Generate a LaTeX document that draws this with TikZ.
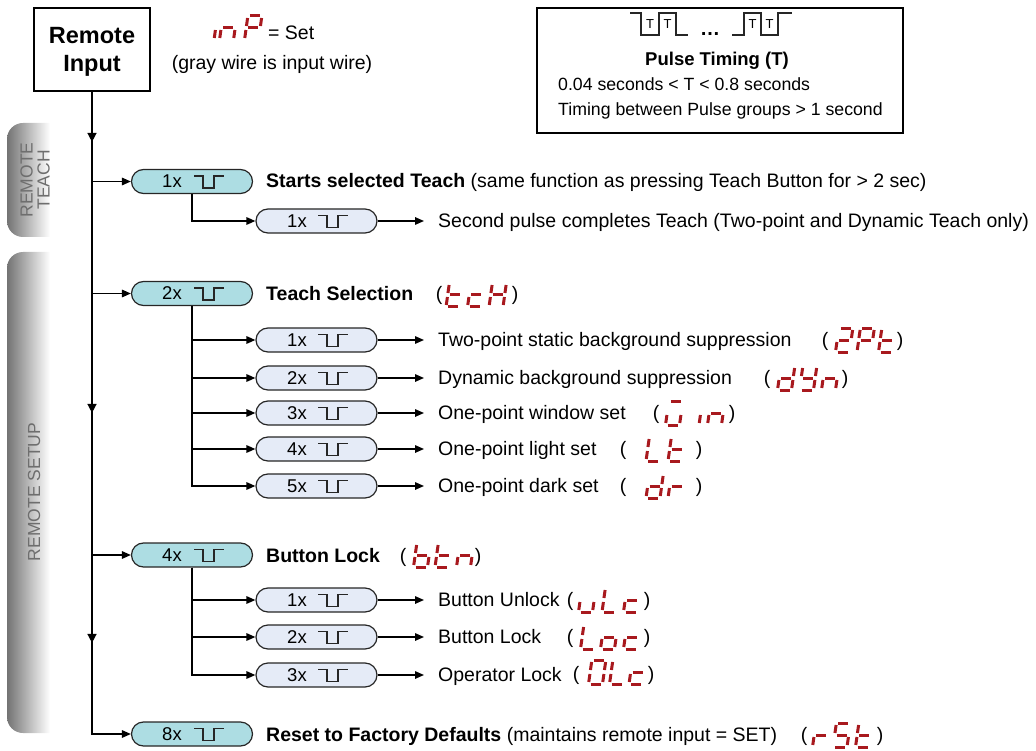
\documentclass[tikz,border=0pt]{standalone}
\usepackage{fontspec}
\setmainfont{Liberation Sans}
\usetikzlibrary{arrows.meta,shapes.misc,decorations.markings}
\definecolor{segred}{HTML}{A8191E}
\definecolor{pillmain}{HTML}{ADDDE3}
\definecolor{pillsub}{HTML}{E5EBF7}
\definecolor{tabtext}{HTML}{6E6E6E}
\tikzset{
  segline/.style={draw=segred, line width=3pt, line cap=butt},
  conn/.style={line width=1.5pt, -{Triangle[length=9pt,width=7.5pt]}},
  pillbase/.style={rounded rectangle, draw=black!85, line width=1.2pt, minimum width=121pt, minimum height=24pt, inner sep=0pt},
  mainpill/.style={pillbase, fill=pillmain},
  subpill/.style={pillbase, fill=pillsub},
  pilltxt/.style={anchor=base, inner sep=0pt, font=\fontsize{18.5}{22}\selectfont},
  pulseline/.style={line width=1.2pt, draw=black!85},
  txt/.style={anchor=base west, inner sep=0pt, font=\fontsize{19.5}{23}\selectfont},
  par/.style={anchor=base, inner sep=0pt, font=\fontsize{19.5}{23}\selectfont},
  boxtxt/.style={anchor=base west, inner sep=0pt, font=\fontsize{17.7}{21}\selectfont},
  wavet/.style={inner sep=0pt, font=\fontsize{13}{14}\selectfont},
  tabtxt/.style={rotate=90, align=center, text=tabtext, inner sep=0pt, font=\fontsize{17.5}{17}\selectfont},
  tabshade/.style={left color=black!55, right color=white},
}
\newcommand\sgsa{\draw[segline] (2,-24) -- (12,-24);}
\newcommand\sgsb{\draw[segline] (14,-22) -- (14,-14);}
\newcommand\sgsc{\draw[segline] (14,-10) -- (14,-2);}
\newcommand\sgsd{\draw[segline] (2,0) -- (12,0);}
\newcommand\sgse{\draw[segline] (0,-10) -- (0,-2);}
\newcommand\sgsf{\draw[segline] (0,-22) -- (0,-14);}
\newcommand\sgsg{\draw[segline] (2,-12) -- (12,-12);}
% digit: x of bottom-left, y centre, segment list
\newcommand\segdigit[3]{\begin{scope}[shift={(#1,#2+12)},xslant=0.14]\foreach \s in {#3}{\csname sgs\s\endcsname}\end{scope}}
% pill: name, x, y, label, style, text dx, pulse dx
\newcommand\pill[7]{%
  \node[#5] (#1) at (#2,#3) {};
  \node[pilltxt] (#1l) at ([xshift=#6pt,yshift=-6.5pt]#1.center) {#4};
  \draw[pulseline] ([xshift=#7pt,yshift=5.5pt]#1.center) -- ++(9,0) -- ++(0,12) -- ++(11,0) -- ++(0,-12) -- ++(10,0);
}
\begin{document}
\begin{tikzpicture}[x=1pt,y=-1pt]
\useasboundingbox (0,0) rectangle (1036,751);

% side tabs
\shade[tabshade] (50,123) [rounded corners=16pt] -- (7,123) -- (7,237) [sharp corners] -- (50,237) -- cycle;
\shade[tabshade] (50,252) [rounded corners=16pt] -- (7,252) -- (7,733) [sharp corners] -- (50,733) -- cycle;
\node[tabtxt] (tabA) at (35,180) {REMOTE\\TEACH};
\node[tabtxt] (tabB) at (34,492) {REMOTE SETUP};

% remote input
\node[draw, line width=1.8pt, minimum width=116pt, minimum height=83pt, inner sep=0pt] (ri) at (92,49.5) {};
\node[align=center, inner sep=0pt, font=\bfseries\fontsize{23.5}{28}\selectfont] (rit) at (92,51.5) {Remote\\Input};

% inP = Set
\segdigit{214}{28}{e}
\segdigit{219.5}{28}{c,e,g}
\segdigit{244.5}{28}{a,b,e,f,g}
\node[par, anchor=base west] (setl) at (268,40) {= Set};
\node[par] (gray) at (272,70) {(gray wire is input wire)};

% pulse timing box
\node[draw, line width=1.5pt, minimum width=366pt, minimum height=125pt, inner sep=0pt] (pb) at (720,70.5) {};
\draw[pulseline] (630,13) -- (641,13) -- (641,35) -- (659,35) -- (659,13) -- (676,13) -- (676,35) -- (688,35);
\draw[pulseline] (732,35) -- (744,35) -- (744,13) -- (761,13) -- (761,35) -- (778,35) -- (778,13) -- (792,13);
\node[wavet] (t1) at (650,24) {T};
\node[wavet] (t2) at (667.5,24) {T};
\node[wavet] (t3) at (752.5,24) {T};
\node[wavet] (t4) at (769.5,24) {T};
\node[anchor=base, inner sep=0pt, font=\bfseries\fontsize{20}{21}\selectfont] (dots) at (710,36) {…};
\node[anchor=base, inner sep=0pt, font=\bfseries\fontsize{18.5}{21}\selectfont] (ptt) at (717,66) {Pulse Timing (T)};
\node[boxtxt] (pt1) at (558,91) {0.04 seconds < T < 0.8 seconds};
\node[boxtxt] (pt2) at (558,116) {Timing between Pulse groups > 1 second};

% main pills
\pill{p1}{192}{181.5}{1x}{mainpill}{-20}{2}
\pill{p2}{192}{293.5}{2x}{mainpill}{-20}{2}
\pill{p4}{192}{555}{4x}{mainpill}{-20}{2}
\pill{p8}{192}{734}{8x}{mainpill}{-20}{2}

% sub pills
\pill{s1}{316.5}{221}{1x}{subpill}{-19.5}{1.5}
\pill{sa}{316.5}{340}{1x}{subpill}{-19.5}{1.5}
\pill{sb}{316.5}{378}{2x}{subpill}{-19.5}{1.5}
\pill{sc}{316.5}{413}{3x}{subpill}{-19.5}{1.5}
\pill{sd}{316.5}{449}{4x}{subpill}{-19.5}{1.5}
\pill{se}{316.5}{486}{5x}{subpill}{-19.5}{1.5}
\pill{la}{316.5}{600}{1x}{subpill}{-19.5}{1.5}
\pill{lb}{316.5}{637}{2x}{subpill}{-19.5}{1.5}
\pill{lc}{316.5}{675}{3x}{subpill}{-19.5}{1.5}

% main vertical line with mid arrows
\draw[conn, postaction={decorate}, decoration={markings,
   mark=at position 50pt with {\arrow{Triangle[length=9pt,width=9pt]}},
   mark=at position 321pt with {\arrow{Triangle[length=9pt,width=9pt]}},
   mark=at position 551pt with {\arrow{Triangle[length=9pt,width=9pt]}}}]
   (ri.south) |- (p8.west);
\draw[conn] (ri.south |- p1.west) -- (p1.west);
\draw[conn] (ri.south |- p2.west) -- (p2.west);
\draw[conn] (ri.south |- p4.west) -- (p4.west);

% sub connectors
\draw[conn] (p1.south) |- (s1.west);
\foreach \n in {sa,sb,sc,sd,se} {\draw[conn] (p2.south) |- (\n.west);}
\foreach \n in {la,lb,lc} {\draw[conn] (p4.south) |- (\n.west);}

% texts
\node[txt] (x1) at (266,188) {\bfseries Starts selected Teach\mdseries{} (same function as pressing Teach Button for > 2 sec)};
\node[txt] (xs1) at (438,228) {Second pulse completes Teach (Two-point and Dynamic Teach only)};
\node[txt] (x2) at (266,300.5) {\bfseries Teach Selection};
\node[txt] (xa) at (438,346.5) {Two-point static background suppression};
\node[txt] (xb) at (438,384.5) {Dynamic background suppression};
\node[txt] (xc) at (438,419.5) {One-point window set};
\node[txt] (xd) at (438,455.5) {One-point light set};
\node[txt] (xe) at (438,492.5) {One-point dark set};
\node[txt] (x4) at (266,562) {\bfseries Button Lock};
\node[txt] (xla) at (438,606.5) {Button Unlock};
\node[txt] (xlb) at (438,643.5) {Button Lock};
\node[txt] (xlc) at (438,681.5) {Operator Lock};
\node[txt] (x8) at (266,741) {\bfseries Reset to Factory Defaults\mdseries{} (maintains remote input = SET)};

\foreach \n in {s1,sa,sb,sc,sd,se,la,lb,lc} {\draw[conn, shorten >=14pt] (\n.east) -- (\n.east -| xa.west);}

% parentheses and segment codes
\node[par] (o2) at (439,300.5) {(}; \node[par] (c2) at (515,300.5) {)};
\segdigit{446}{295}{d,e,f,g}\segdigit{467.5}{295}{d,e,g}\segdigit{489}{295}{b,c,e,f,g}

\node[par] (oa) at (825,346.5) {(}; \node[par] (ca) at (900,346.5) {)};
\segdigit{835.5}{340}{a,b,d,e,g}\segdigit{857}{340}{a,b,e,f,g}\segdigit{878.5}{340}{d,e,f,g}

\node[par] (ob) at (767,384.5) {(}; \node[par] (cb) at (845,384.5) {)};
\segdigit{777.5}{378}{b,c,d,e,g}\segdigit{799.5}{378}{b,c,d,f,g}\segdigit{821.5}{378}{c,e,g}

\node[par] (oc) at (656,419.5) {(}; \node[par] (cc) at (732,419.5) {)};
\segdigit{665.5}{413}{a,c,d,e}\segdigit{699}{413}{e}\segdigit{707.5}{413}{c,e,g}

\node[par] (od) at (623,455.5) {(}; \node[par] (cd) at (699,455.5) {)};
\segdigit{646}{449}{d,e,f}\segdigit{668}{449}{d,e,f,g}

\node[par] (oe) at (623,492.5) {(}; \node[par] (ce) at (699,492.5) {)};
\segdigit{646}{486}{b,c,d,e,g}\segdigit{668}{486}{e,g}

\node[par] (o4) at (403,562) {(}; \node[par] (c4) at (478,562) {)};
\segdigit{413.5}{555}{c,d,e,f,g}\segdigit{435}{555}{d,e,f,g}\segdigit{456.5}{555}{c,e,g}

\node[par] (ola) at (570,606.5) {(}; \node[par] (cla) at (647,606.5) {)};
\segdigit{578.5}{600}{c,d,e}\segdigit{602}{600}{d,e,f}\segdigit{623.5}{600}{d,e,g}

\node[par] (olb) at (570,643.5) {(}; \node[par] (clb) at (647,643.5) {)};
\segdigit{580.5}{637}{d,e,f}\segdigit{600.5}{637}{c,d,e,g}\segdigit{623.5}{637}{d,e,g}

\node[par] (olc) at (576,680) {(}; \node[par] (clc) at (651,680) {)};
\segdigit{588.5}{672}{a,b,c,d,e,f}\segdigit{609.5}{672}{d,e,f}\segdigit{629}{672}{d,e,g}

\node[par] (o8) at (804,741) {(}; \node[par] (c8) at (880,741) {)};
\segdigit{812.5}{735}{e,g}\segdigit{833}{735}{a,c,d,f,g}\segdigit{855.5}{735}{d,e,f,g}
\end{tikzpicture}
\end{document}
